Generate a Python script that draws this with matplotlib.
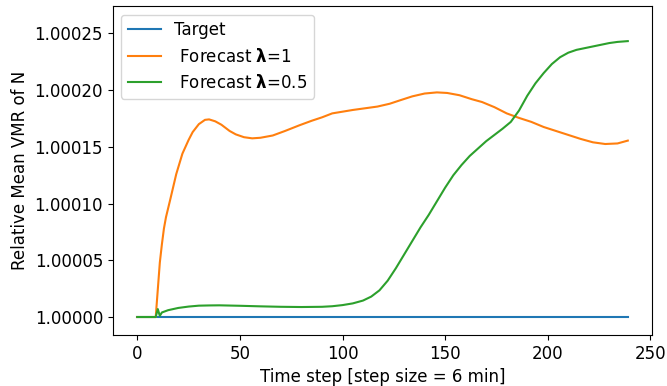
# Relative mean VMR of N: target vs. forecasts for two lambda settings
import numpy as np
import matplotlib.pyplot as plt
from matplotlib.ticker import FormatStrFormatter, MultipleLocator

plt.rcParams.update({
    "font.family": "DejaVu Sans",
    "font.size": 12,
})

# Target (constant reference)
target_t = [0, 239]
target_v = [1.0, 1.0]

# Forecast lambda=1 (deviation from 1, in units of 1e-5)
f1_t = [0, 9, 10, 11, 12, 13, 14, 16, 19, 22, 25, 27, 30, 33, 35, 38, 41, 45,
        48, 52, 56, 60, 66, 72, 79, 85, 90, 95, 100, 105, 111, 117, 123, 128,
        134, 140, 146, 151, 157, 163, 168, 174, 180, 186, 192, 198, 204, 210,
        216, 222, 228, 234, 239]
f1_d = [0, 0, 2.4, 4.8, 6.4, 7.8, 8.8, 10.3, 12.6, 14.4, 15.6, 16.3, 17.0,
        17.38, 17.42, 17.25, 16.95, 16.4, 16.1, 15.85, 15.75, 15.8, 16.0, 16.4,
        16.9, 17.3, 17.6, 17.95, 18.1, 18.25, 18.4, 18.55, 18.8, 19.1, 19.45,
        19.7, 19.8, 19.75, 19.55, 19.2, 18.95, 18.5, 17.95, 17.55, 17.2, 16.75,
        16.4, 16.05, 15.7, 15.4, 15.25, 15.3, 15.55]

# Forecast lambda=0.5 (deviation from 1, in units of 1e-5)
f05_t = [0, 9, 10, 11, 12, 15, 20, 25, 30, 35, 40, 50, 60, 70, 80, 90, 95,
         100, 105, 110, 114, 118, 122, 126, 130, 134, 138, 142, 146, 150, 154,
         158, 162, 166, 170, 174, 178, 182, 186, 190, 194, 198, 202, 206, 210,
         214, 218, 222, 226, 230, 234, 239]
f05_d = [0, 0, 0.7, 0.1, 0.4, 0.6, 0.8, 0.92, 1.0, 1.02, 1.03, 0.99, 0.94,
         0.9, 0.88, 0.9, 0.95, 1.05, 1.2, 1.45, 1.8, 2.35, 3.2, 4.3, 5.5, 6.7,
         7.9, 9.0, 10.2, 11.4, 12.5, 13.4, 14.2, 14.85, 15.5, 16.05, 16.6, 17.2,
         18.2, 19.5, 20.6, 21.5, 22.3, 22.9, 23.3, 23.55, 23.7, 23.85, 24.0,
         24.15, 24.25, 24.32]

f1_v = 1.0 + np.array(f1_d) * 1e-5
f05_v = 1.0 + np.array(f05_d) * 1e-5

fig = plt.figure(figsize=(6.67, 3.86), dpi=100)
ax = fig.add_axes([0.169, 0.132, 0.809, 0.852])

ax.plot(target_t, target_v, color="#1f77b4", linewidth=1.5, label="Target")
ax.plot(f1_t, f1_v, color="#ff7f0e", linewidth=1.5,
        label=r" Forecast $\boldsymbol{\lambda}$=1")
ax.plot(f05_t, f05_v, color="#2ca02c", linewidth=1.5,
        label=r" Forecast $\boldsymbol{\lambda}$=0.5")

ax.set_xlim(-11.95, 250.95)
ax.set_ylim(1 - 0.0000159, 1 + 0.000274)
ax.xaxis.set_major_locator(MultipleLocator(50))
ax.yaxis.set_major_locator(MultipleLocator(0.00005))
ax.yaxis.set_major_formatter(FormatStrFormatter("%.5f"))

ax.set_xlabel("Time step [step size = 6 min]")
ax.set_ylabel("Relative Mean VMR of N")
ax.legend(loc="upper left")

fig.savefig("out.png", dpi=100)
